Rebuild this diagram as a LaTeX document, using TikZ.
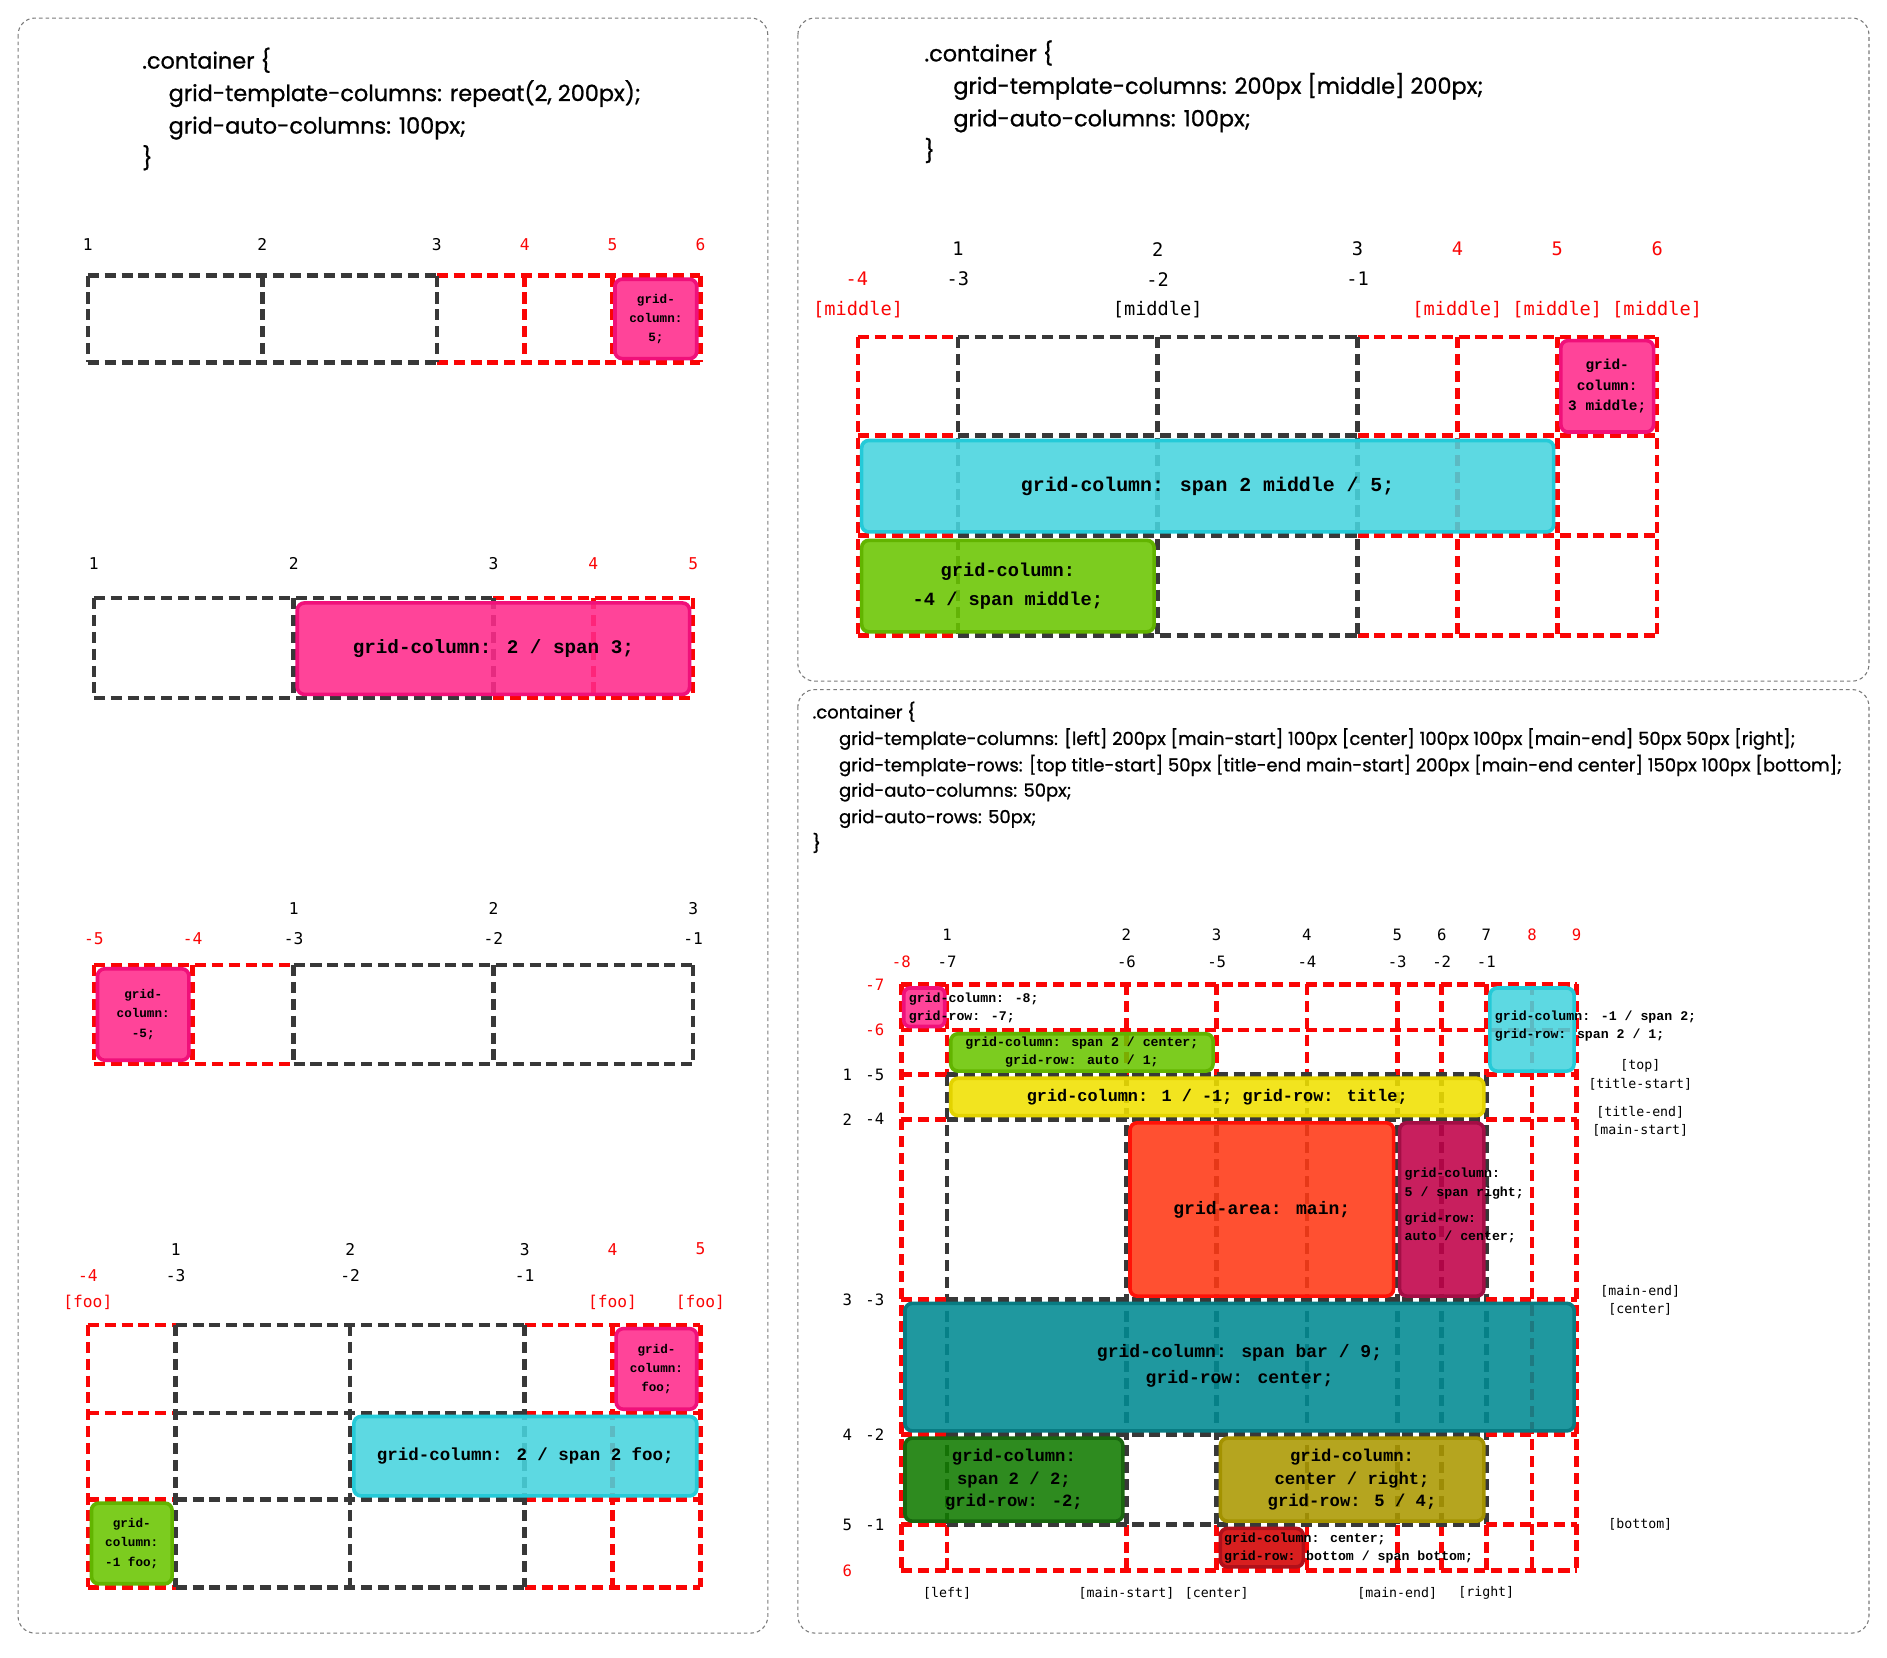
\documentclass[tikz,border=0pt]{standalone}
\usepackage{fontspec}
\setmainfont{Poppins}
\newfontfamily\codef{Poppins}[FakeBold=0.9]
\newfontfamily\labf{DejaVu Sans Mono}
\newfontfamily\courf{Liberation Mono}
\usetikzlibrary{fit}
\definecolor{gridgray}{HTML}{383838}
\definecolor{gridred}{HTML}{FA0505}
\definecolor{panelgray}{HTML}{7A7A7A}
\definecolor{pinkF}{HTML}{FF2A8B}\definecolor{pinkD}{HTML}{F0107A}
\definecolor{cyanF}{HTML}{47D4DE}\definecolor{cyanD}{HTML}{25CAD8}
\definecolor{greenF}{HTML}{6AC500}\definecolor{greenD}{HTML}{62B400}
\definecolor{yellowF}{HTML}{F0E000}\definecolor{yellowD}{HTML}{E3D300}
\definecolor{orangeF}{HTML}{FF3814}\definecolor{orangeD}{HTML}{FF1208}
\definecolor{crimF}{HTML}{C00048}\definecolor{crimD}{HTML}{A30E45}
\definecolor{tealF}{HTML}{008A92}\definecolor{tealD}{HTML}{087B82}
\definecolor{dgreenF}{HTML}{117B00}\definecolor{dgreenD}{HTML}{18670E}
\definecolor{oliveF}{HTML}{AB9800}\definecolor{oliveD}{HTML}{A39200}
\definecolor{redsF}{HTML}{D30000}\definecolor{redsD}{HTML}{B0101A}
\newcommand\bt[2]{\courf\bfseries\fontsize{#1}{#2}\selectfont}
\tikzset{
  rl/.style={draw=gridred, line width=3.8pt, dash pattern=on 9.2pt off 4.8pt},
  bl/.style={draw=gridgray, line width=3.8pt, dash pattern=on 9.2pt off 4.8pt},
  panel/.style={draw=panelgray, line width=0.9pt, dash pattern=on 3pt off 2.5pt, rounded corners=14pt},
  item/.style={rounded corners=6pt, line width=3pt, fill opacity=0.88, inner sep=0pt, outer sep=0pt},
  code/.style={anchor=base west, inner sep=0pt, font=\codef\fontsize{18.6}{22}\selectfont, text=black},
  codes/.style={anchor=base west, inner sep=0pt, font=\codef\fontsize{14.9}{17}\selectfont, text=black},
  lblA/.style={inner sep=0pt, font=\labf\fontsize{13.5}{15}\selectfont, text=black},
  lblB/.style={inner sep=0pt, font=\labf\fontsize{15.5}{17}\selectfont, text=black},
  lblC/.style={inner sep=0pt, font=\labf\fontsize{13}{15}\selectfont, text=black},
  lblD/.style={inner sep=0pt, font=\labf\fontsize{11}{13}\selectfont, text=black},
  btxt/.style={inner sep=0pt, align=center, text=black},
  btxl/.style={inner sep=0pt, align=left, anchor=west, text=black},
}
\begin{document}
\begin{tikzpicture}[x=1pt,y=-1pt]
\useasboundingbox (0,0) rectangle (1568,1377.7);
% ---------------- panels
\draw[panel] (15,15) rectangle (638,1357);
\draw[panel] (663,15) rectangle (1553,566);
\draw[panel] (663,573) rectangle (1553,1357);

% ================= LEFT PANEL =================
\node[code] (c1a) at (118,57) {.container \{};
\node[code] (c1b) at (140,84) {grid-template-columns: repeat(2, 200px);};
\node[code] (c1c) at (140,111) {grid-auto-columns: 100px;};
\node[code] (c1d) at (118,138) {\}};

% --- section 1
\foreach \x/\t in {73/1,218/2,363/3} \node[lblA] at (\x,203) {\t};
\foreach \x/\t in {436/4,509/5,582/6} \node[lblA,text=gridred] at (\x,203) {\t};
\foreach \y in {229,301} {\draw[bl] (73,\y) -- (363,\y); \draw[rl] (363,\y) -- (582,\y);}
\foreach \x in {73,218,363} \draw[bl] (\x,229) -- (\x,301);
\foreach \x in {436,509,582} \draw[rl] (\x,229) -- (\x,301);
\node[item, fill=pinkF, draw=pinkD, fit={(511,232)(579,298)}] (s1p) {};
\node[btxt, font=\bt{10.5}{16}] at (s1p.center) {grid-\\column:\\5;};

% --- section 2
\foreach \x/\t in {78/1,244/2,410/3} \node[lblA] at (\x,468) {\t};
\foreach \x/\t in {493/4,576/5} \node[lblA,text=gridred] at (\x,468) {\t};
\foreach \y in {497,580} {\draw[bl] (78,\y) -- (410,\y); \draw[rl] (410,\y) -- (576,\y);}
\foreach \x in {78,244,410} \draw[bl] (\x,497) -- (\x,580);
\foreach \x in {493,576} \draw[rl] (\x,497) -- (\x,580);
\node[item, fill=pinkF, draw=pinkD, fit={(247,501)(573,577)}] (s2p) {};
\node[btxt, font=\bt{16}{20}] at (s2p.center) {grid-column: 2 / span 3;};

% --- section 3
\foreach \x/\t in {244/1,410/2,576/3} \node[lblA] at (\x,755) {\t};
\foreach \x/\t in {244/-3,410/-2,576/-1} \node[lblA] at (\x,780) {\t};
\foreach \x/\t in {78/-5,160/-4} \node[lblA,text=gridred] at (\x,780) {\t};
\foreach \y in {802,884} {\draw[rl] (78,\y) -- (244,\y); \draw[bl] (244,\y) -- (576,\y);}
\foreach \x in {78,160} \draw[rl] (\x,802) -- (\x,884);
\foreach \x in {244,410,576} \draw[bl] (\x,802) -- (\x,884);
\node[item, fill=pinkF, draw=pinkD, fit={(81,805)(157,881)}] (s3p) {};
\node[btxt, font=\bt{10.5}{16}] at (s3p.center) {grid-\\column:\\-5;};

% --- section 4
\foreach \x/\t in {146/1,291/2,436/3} \node[lblA] at (\x,1038) {\t};
\foreach \x/\t in {509/4,582/5} \node[lblA,text=gridred] at (\x,1038) {\t};
\foreach \x/\t in {146/-3,291/-2,436/-1} \node[lblA] at (\x,1060) {\t};
\node[lblA,text=gridred] at (73,1060) {-4};
\foreach \x in {73,509,582} \node[lblA,text=gridred] at (\x,1082) {[foo]};
\foreach \y in {1101,1174,1246,1319} {\draw[rl] (73,\y) -- (146,\y); \draw[bl] (146,\y) -- (436,\y); \draw[rl] (436,\y) -- (582,\y);}
\foreach \x in {73,509,582} \draw[rl] (\x,1101) -- (\x,1319);
\foreach \x in {146,291,436} \draw[bl] (\x,1101) -- (\x,1319);
\node[item, fill=pinkF, draw=pinkD, fit={(512,1104)(579,1171)}] (s4p) {};
\node[btxt, font=\bt{10.5}{16}] at (s4p.center) {grid-\\column:\\foo;};
\node[item, fill=cyanF, draw=cyanD, fit={(294,1177)(579,1243)}] (s4c) {};
\node[btxt, font=\bt{14.5}{18}] at (s4c.center) {grid-column: 2 / span 2 foo;};
\node[item, fill=greenF, draw=greenD, fit={(76,1249)(143,1316)}] (s4g) {};
\node[btxt, font=\bt{10.5}{16}] at (s4g.center) {grid-\\column:\\-1 foo;};

% ================= TOP RIGHT PANEL =================
\node[code] (c2a) at (768,51) {.container \{};
\node[code] (c2b) at (792,78) {grid-template-columns: 200px [middle] 200px;};
\node[code] (c2c) at (792,105) {grid-auto-columns: 100px;};
\node[code] (c2d) at (768,132) {\}};

\foreach \x/\t in {796/1,962/2,1128/3} \node[lblB] at (\x,207) {\t};
\foreach \x/\t in {1211/4,1294/5,1377/6} \node[lblB,text=gridred] at (\x,207) {\t};
\foreach \x/\t in {796/-3,962/-2,1128/-1} \node[lblB] at (\x,232) {\t};
\node[lblB,text=gridred] at (712,232) {-4};
\node[lblB] at (962,257) {[middle]};
\foreach \x in {713,1211,1294,1377} \node[lblB,text=gridred] at (\x,257) {[middle]};
\foreach \y in {280,362,445,528} {\draw[rl] (713,\y) -- (796,\y); \draw[bl] (796,\y) -- (1128,\y); \draw[rl] (1128,\y) -- (1377,\y);}
\foreach \x in {713,1211,1294,1377} \draw[rl] (\x,280) -- (\x,528);
\foreach \x in {796,962,1128} \draw[bl] (\x,280) -- (\x,528);
\node[item, fill=pinkF, draw=pinkD, fit={(1297,283)(1374,359)}] (t1p) {};
\node[btxt, font=\bt{12}{17}] at (t1p.center) {grid-\\column:\\3 middle;};
\node[item, fill=cyanF, draw=cyanD, fit={(716,366)(1291,442)}] (t1c) {};
\node[btxt, font=\bt{16.5}{20}] at (t1c.center) {grid-column: span 2 middle / 5;};
\node[item, fill=greenF, draw=greenD, fit={(716,449)(959,525)}] (t1g) {};
\node[btxt, font=\bt{15.5}{24}] at (t1g.center) {grid-column:\\-4 / span middle;};

% ================= BOTTOM RIGHT PANEL =================
\node[codes] (c3a) at (675,597) {.container \{};
\node[codes] (c3b) at (697,619) {grid-template-columns: [left] 200px [main-start] 100px [center] 100px 100px [main-end] 50px 50px [right];};
\node[codes] (c3c) at (697,641) {grid-template-rows: [top title-start] 50px [title-end main-start] 200px [main-end center] 150px 100px [bottom];};
\node[codes] (c3d) at (697,662) {grid-auto-columns: 50px;};
\node[codes] (c3e) at (697,684) {grid-auto-rows: 50px;};
\node[codes] (c3f) at (675,706) {\}};

% labels top
\foreach \x/\t in {787/1,936/2,1011/3,1086/4,1161/5,1198/6,1235/7} \node[lblC] at (\x,777) {\t};
\foreach \x/\t in {1273/8,1310/9} \node[lblC,text=gridred] at (\x,777) {\t};
\foreach \x/\t in {787/-7,936/-6,1011/-5,1086/-4,1161/-3,1198/-2,1235/-1} \node[lblC] at (\x,799) {\t};
\node[lblC,text=gridred] at (749,799) {-8};
% labels left
\node[lblC,text=gridred] at (727,818) {-7};
\node[lblC,text=gridred] at (727,856) {-6};
\foreach \y/\a/\b in {893/1/-5,930/2/-4,1080/3/-3,1192/4/-2,1267/5/-1} {\node[lblC] at (704,\y) {\a}; \node[lblC] at (727,\y) {\b};}
\node[lblC,text=gridred] at (704,1305) {6};
% labels right
\node[lblD] at (1363,886) {[top]};
\node[lblD] at (1363,901) {[title-start]};
\node[lblD] at (1363,924) {[title-end]};
\node[lblD] at (1363,939) {[main-start]};
\node[lblD] at (1363,1073) {[main-end]};
\node[lblD] at (1363,1088) {[center]};
\node[lblD] at (1363,1267) {[bottom]};
% labels bottom
\node[lblD] at (787,1324) {[left]};
\node[lblD] at (936,1324) {[main-start]};
\node[lblD] at (1011,1324) {[center]};
\node[lblD] at (1161,1324) {[main-end]};
\node[lblD] at (1235,1324) {[right]};

% grid lines
\foreach \x in {749,1273,1310} \draw[rl] (\x,818) -- (\x,1305);
\foreach \x in {787,936,1011,1086,1161,1198,1235} {\draw[rl] (\x,818) -- (\x,893); \draw[bl] (\x,893) -- (\x,1267); \draw[rl] (\x,1267) -- (\x,1305);}
\foreach \y in {818,856,1305} \draw[rl] (749,\y) -- (1310,\y);
\foreach \y in {893,930,1080,1192,1267} {\draw[rl] (749,\y) -- (787,\y); \draw[bl] (787,\y) -- (1235,\y); \draw[rl] (1235,\y) -- (1310,\y);}

% items
\node[item, rounded corners=5pt, fill=pinkF, draw=pinkD, fit={(751,821)(785,853)}] (b1) {};
\node[btxl, font=\bt{11}{15}] at (755,837.5) {grid-column: -8;\\grid-row: -7;};
\node[item, fill=cyanF, draw=cyanD, fit={(1238,821)(1308,890)}] (b2) {};
\node[btxl, font=\bt{11}{15}] at (1242,852.5) {grid-column: -1 / span 2;\\grid-row: span 2 / 1;};
\node[item, fill=greenF, draw=greenD, fit={(790,859)(1008,890)}] (b3) {};
\node[btxt, font=\bt{11}{15}] at (b3.center) {grid-column: span 2 / center;\\grid-row: auto / 1;};
\node[item, fill=yellowF, draw=yellowD, fit={(790,896)(1233,927)}] (b4) {};
\node[btxt, font=\bt{14}{18}] at (b4.center) {grid-column: 1 / -1; grid-row: title;};
\node[item, fill=orangeF, draw=orangeD, fit={(939,933)(1158,1077)}] (b5) {};
\node[btxt, font=\bt{15}{18}] at (b5.center) {grid-area: main;};
\node[item, fill=crimF, draw=crimD, fit={(1163,933)(1233,1077)}] (b6) {};
\node[btxl, font=\bt{11}{15}] at (1167,983.5) {grid-column:\\5 / span right;};
\node[btxl, font=\bt{11}{15}] at (1167,1020.5) {grid-row:\\auto / center;};
\node[item, fill=tealF, draw=tealD, fit={(752,1083)(1308,1189)}] (b7) {};
\node[btxt, font=\bt{15}{22}] at (1030,1135) {grid-column: span bar / 9;\\grid-row: center;};
\node[item, fill=dgreenF, draw=dgreenD, fit={(752,1195)(933,1264)}] (b8) {};
\node[btxt, font=\bt{14.3}{19}] at (b8.center) {grid-column:\\span 2 / 2;\\grid-row: -2;};
\node[item, fill=oliveF, draw=oliveD, fit={(1014,1195)(1233,1264)}] (b9) {};
\node[btxt, font=\bt{14.3}{19}] at (b9.center) {grid-column:\\center / right;\\grid-row: 5 / 4;};
\node[item, fill=redsF, draw=redsD, fit={(1014,1270)(1083,1302)}] (b10) {};
\node[btxl, font=\bt{11}{15}] at (1017,1286.5) {grid-column: center;\\grid-row: bottom / span bottom;};
\end{tikzpicture}
\end{document}
